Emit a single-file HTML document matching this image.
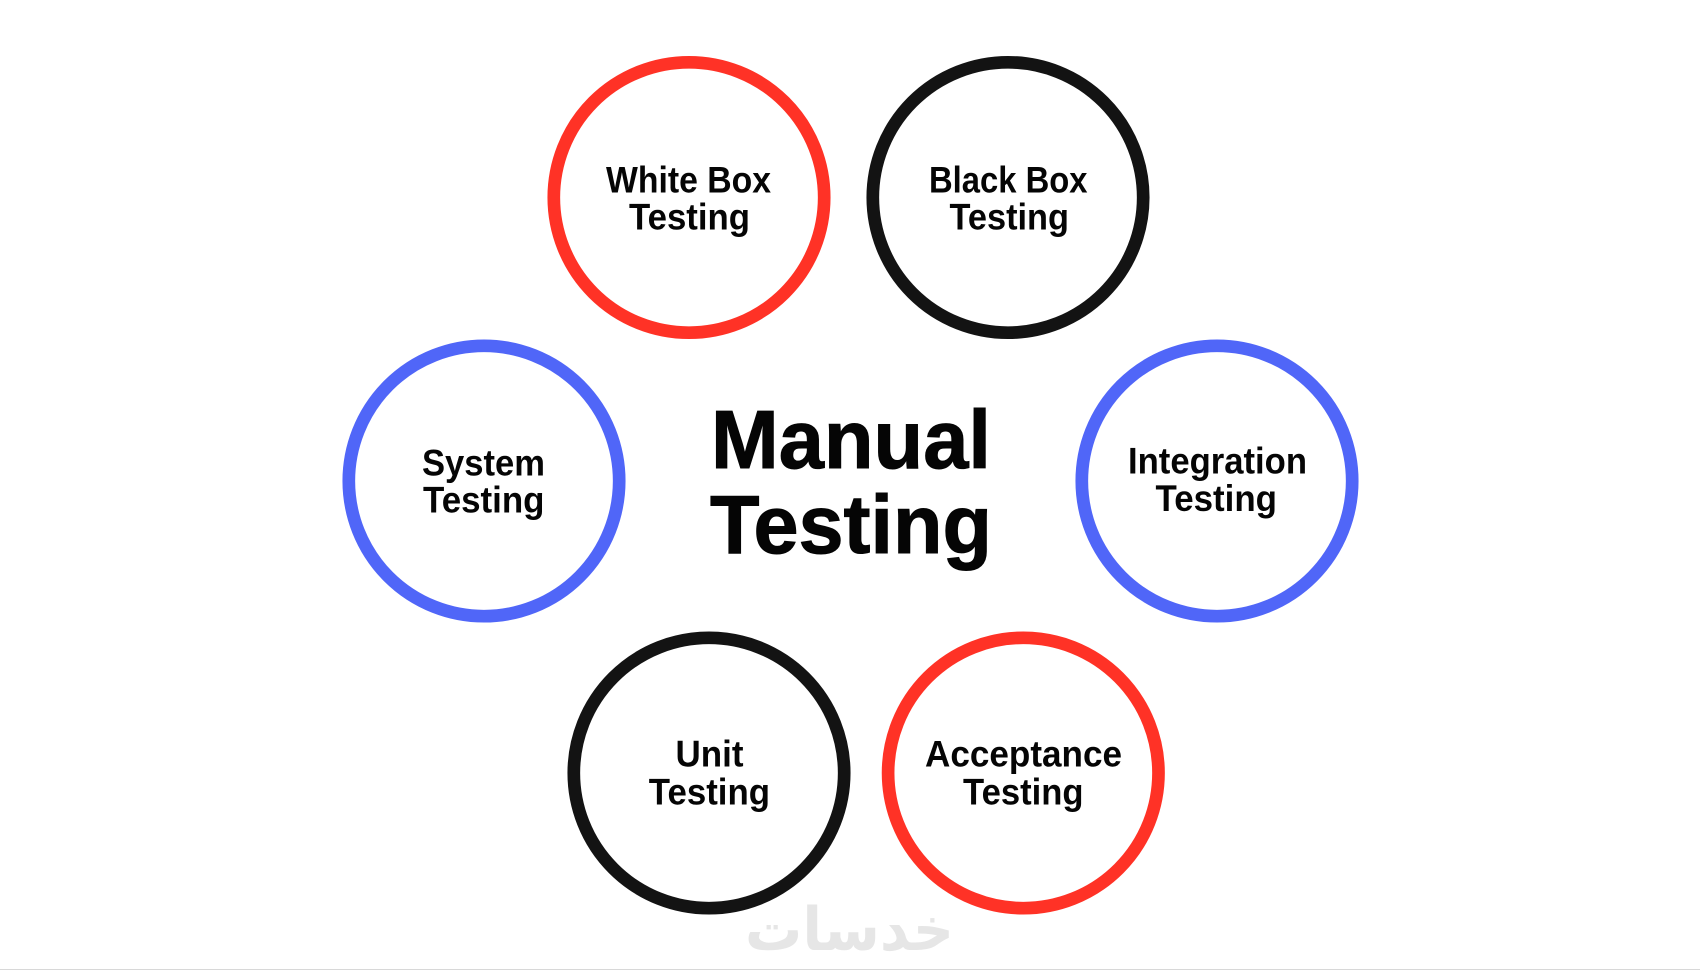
<!DOCTYPE html>
<html><head><meta charset="utf-8"><style>
html,body{margin:0;padding:0;background:#fff}
svg{display:block}
text{font-family:"Liberation Sans",Arial,sans-serif;font-weight:700;fill:#050505}
.s{font-size:37px}
.b{font-size:82.5px;stroke:#050505;stroke-width:1}
.w{font-family:"DejaVu Sans",sans-serif;font-size:60px;fill:#e6e6e6}
circle{fill:#fff;stroke-width:12.7}
</style></head><body>
<svg width="1700" height="970" viewBox="0 0 1700 970" xmlns="http://www.w3.org/2000/svg">
<rect width="1700" height="970" fill="#fff"/>
<rect y="969" width="1700" height="1" fill="#d8d8d8"/>
<text class="w" x="745" y="950" textLength="209" lengthAdjust="spacingAndGlyphs" direction="rtl" style="direction:rtl" text-anchor="end">خدسات</text>
<circle cx="689" cy="197.5" r="135.2" stroke="#ff3226"/>
<circle cx="1008" cy="197.5" r="135.2" stroke="#131313"/>
<circle cx="484" cy="481" r="135.2" stroke="#5066f8"/>
<circle cx="1217" cy="481" r="135.2" stroke="#5066f8"/>
<circle cx="709" cy="773" r="135.2" stroke="#131313"/>
<circle cx="1023.3" cy="773" r="135.2" stroke="#ff3226"/>
<text class="s" x="606" y="192.7" textLength="165" lengthAdjust="spacingAndGlyphs">White Box</text>
<text class="s" x="629" y="229.3" textLength="121" lengthAdjust="spacingAndGlyphs">Testing</text>
<text class="s" x="929" y="192.7" textLength="158.5" lengthAdjust="spacingAndGlyphs">Black Box</text>
<text class="s" x="949.5" y="229.3" textLength="119.5" lengthAdjust="spacingAndGlyphs">Testing</text>
<text class="s" x="422" y="475.3" textLength="123" lengthAdjust="spacingAndGlyphs">System</text>
<text class="s" x="423" y="512.7" textLength="121.5" lengthAdjust="spacingAndGlyphs">Testing</text>
<text class="s" x="1128" y="473.3" textLength="179" lengthAdjust="spacingAndGlyphs">Integration</text>
<text class="s" x="1155.5" y="511" textLength="121.5" lengthAdjust="spacingAndGlyphs">Testing</text>
<text class="s" x="675.5" y="766.7" textLength="68" lengthAdjust="spacingAndGlyphs">Unit</text>
<text class="s" x="648.8" y="804.3" textLength="121.2" lengthAdjust="spacingAndGlyphs">Testing</text>
<text class="s" x="925" y="766.7" textLength="197" lengthAdjust="spacingAndGlyphs">Acceptance</text>
<text class="s" x="963" y="804.3" textLength="120.5" lengthAdjust="spacingAndGlyphs">Testing</text>
<text class="b" x="711" y="468" textLength="280" lengthAdjust="spacingAndGlyphs">Manual</text>
<text class="b" x="710" y="553" textLength="282" lengthAdjust="spacingAndGlyphs">Testing</text>
</svg>
</body></html>
